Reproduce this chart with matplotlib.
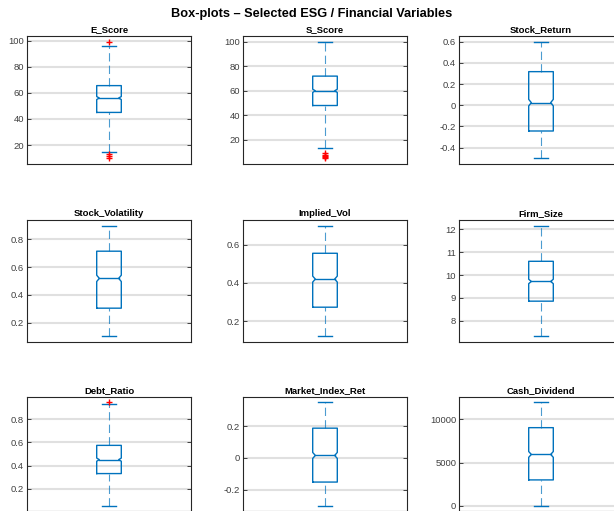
import numpy as np
import matplotlib
matplotlib.use('Agg')
import matplotlib.pyplot as plt
from matplotlib.ticker import MultipleLocator, FuncFormatter

# Resumo estatístico de cada variável (quartis, bigodes e outliers)
variaveis = ['E_Score', 'S_Score', 'Stock_Return',
             'Stock_Volatility', 'Implied_Vol', 'Firm_Size',
             'Debt_Ratio', 'Market_Index_Ret', 'Cash_Dividend']
q1 = [45.0, 48.0, -0.243, 0.304, 0.273, 8.86, 0.330, -0.151, 3000]
medianas = [56.0, 60.0, 0.025, 0.519, 0.420, 9.72, 0.451, 0.016, 5950]
q3 = [65.5, 72.0, 0.318, 0.715, 0.555, 10.60, 0.575, 0.187, 9050]
bigode_inf = [15.0, 13.0, -0.50, 0.10, 0.12, 7.32, 0.05, -0.30, 0]
bigode_sup = [96.0, 100.0, 0.60, 0.90, 0.70, 12.16, 0.936, 0.35, 12000]
outliers = [[99, 13, 12, 10], [9, 8, 7, 6, 5], [], [], [], [], [0.95], [], []]
passo_ticks = [20, 20, 0.2, 0.2, 0.2, 1, 0.2, 0.2, 5000]
n_obs = 800  # tamanho da amostra usado no entalhe (notch)

AZUL = '#0072BD'
VERMELHO = '#FF0000'

plt.rcParams['font.family'] = ['Liberation Sans', 'DejaVu Sans']
plt.rcParams['axes.unicode_minus'] = False
plt.rcParams['lines.scale_dashes'] = False

fig = plt.figure(figsize=(6.14, 5.11), dpi=100)
W, H = 614, 511

# posição dos eixos em pixels (grade 3x3, a última coluna passa da borda)
esquerdas = [27, 243, 459]
topos = [36, 220, 397]
alturas = [128, 122, 114]
largura = 164

fig.text(312 / W, 1 - 14 / H, 'Box-plots – Selected ESG / Financial Variables',
         ha='center', va='center', fontsize=9.2, fontweight='bold')

larg_caixa = 0.15
larg_cap = 0.04
recuo = 0.016


def desenha_box(ax, a, m, b, lo, hi, flier):
    c = 1.0
    h = larg_caixa / 2
    notch = 1.57 * (b - a) / np.sqrt(n_obs)
    xs = [c - h, c + h, c + h, c + h - recuo, c + h, c + h, c - h, c - h,
          c - h + recuo, c - h, c - h]
    ys = [a, a, m - notch, m, m + notch, b, b, m + notch, m, m - notch, a]
    ax.plot(xs, ys, color=AZUL, lw=1.0, zorder=3)
    ax.plot([c - h + recuo, c + h - recuo], [m, m], color=AZUL, lw=1.0, zorder=3)
    # bigodes tracejados e extremidades
    ax.plot([c, c], [b, hi], color=AZUL, alpha=0.7, lw=0.8, dashes=(6, 3), zorder=3)
    ax.plot([c, c], [lo, a], color=AZUL, alpha=0.7, lw=0.8, dashes=(6, 3), zorder=3)
    ax.plot([c - larg_cap, c + larg_cap], [hi, hi], color=AZUL, lw=1.0, zorder=3)
    ax.plot([c - larg_cap, c + larg_cap], [lo, lo], color=AZUL, lw=1.0, zorder=3)
    if flier:
        ax.plot([c] * len(flier), flier, '+', color=VERMELHO, ms=5, mew=1.0, zorder=4)


for i, nome in enumerate(variaveis):
    lin, col = divmod(i, 3)
    x0 = esquerdas[col] / W
    y0 = 1 - (topos[lin] + alturas[lin]) / H
    ax = fig.add_axes([x0, y0, largura / W, alturas[lin] / H])

    desenha_box(ax, q1[i], medianas[i], q3[i], bigode_inf[i], bigode_sup[i], outliers[i])

    # limites com 5% de folga, como no boxplot do MATLAB
    valores = [bigode_inf[i], bigode_sup[i]] + outliers[i]
    vmin, vmax = min(valores), max(valores)
    folga = 0.05 * (vmax - vmin)
    ax.set_ylim(vmin - folga, vmax + folga)
    ax.set_xlim(0.5, 1.5)

    ax.set_xticks([])
    ax.yaxis.set_major_locator(MultipleLocator(passo_ticks[i]))
    ax.yaxis.set_major_formatter(FuncFormatter(lambda v, p: f'{v:g}' if abs(v) > 1e-9 else '0'))
    ax.tick_params(axis='y', direction='in', length=3, width=0.6, left=True, right=True,
                   labelsize=6.8, labelcolor='#404040', color='#262626', pad=2)
    ax.yaxis.grid(True, color='#e0e0e0', lw=1.5)
    ax.set_axisbelow(True)
    for s in ax.spines.values():
        s.set_color('#262626')
        s.set_linewidth(0.8)
    ax.set_title(nome, fontsize=6.8, fontweight='bold', pad=3)

fig.savefig('out.png', dpi=100)
